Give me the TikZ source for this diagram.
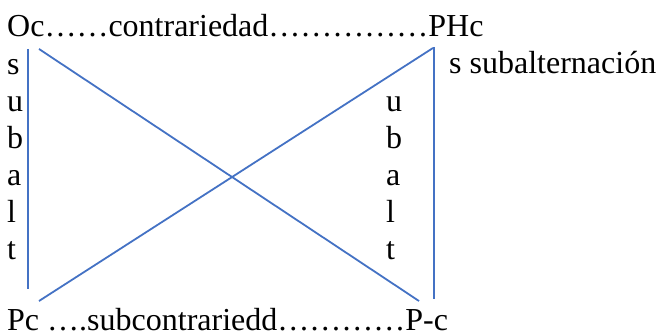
\documentclass[tikz,border=0pt]{standalone}
\usepackage{fontspec}
\setmainfont{Liberation Serif}
\usetikzlibrary{positioning}
\definecolor{lnblue}{RGB}{68,114,196}
\tikzset{
 txt/.style={inner sep=0pt, anchor=base west, align=left, font=\fontsize{32}{37}\selectfont},
 link/.style={draw=lnblue, line width=1.8pt}
}
\begin{document}
\begin{tikzpicture}[x=1pt,y=-1pt]
\useasboundingbox (0,0) rectangle (656,334);

\node[txt] (contrary) at (7,37) {Oc……contrariedad……………PHc};
% columns: base is the last line
\node[txt] (leftcol) at (7,259) {s\\u\\b\\a\\l\\t};
\node[txt] (subalt) at (449,74) {s subalternación};
\node[txt] (rightcol) at (386,259) {u\\b\\a\\l\\t};
\node[txt] (subcontrary) at (7,330) {Pc ….subcontrariedd…………P-c};

\coordinate (ltop) at (28,49);
\coordinate (lbot) at (28,289);
\coordinate (rtop) at (434,47);
\coordinate (rbot) at (434,299);
\coordinate (dtop) at (39,49);
\coordinate (dbot) at (39,301);
\coordinate (pcorner) at (419,301);
\coordinate (hcorner) at (433,48);

\draw[link] (ltop) -- (lbot);
\draw[link] (rtop) -- (rbot);
\draw[link] (dtop) -- (pcorner);
\draw[link] (dbot) -- (hcorner);

\end{tikzpicture}
\end{document}
